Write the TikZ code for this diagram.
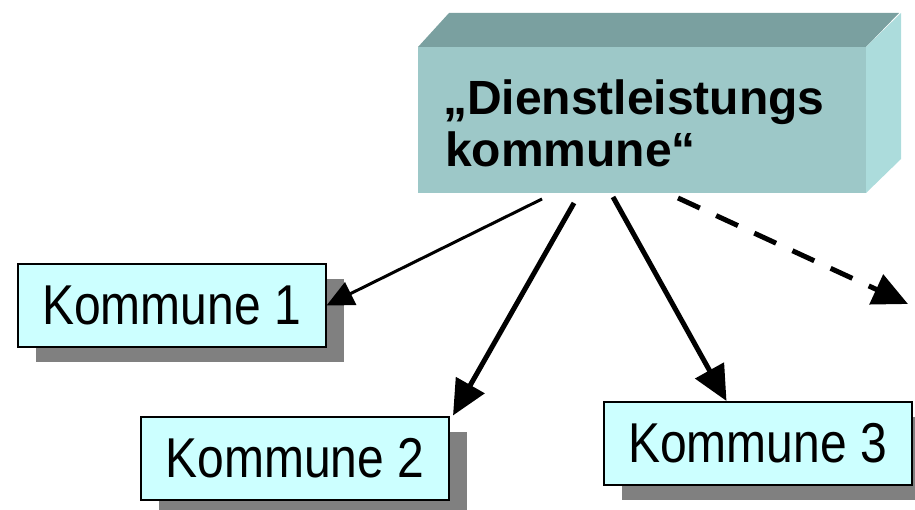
\documentclass[tikz,border=0pt]{standalone}
\usepackage{fontspec}
\setmainfont{Liberation Sans}
\usetikzlibrary{arrows.meta,calc,shadows}
\definecolor{frontc}{RGB}{157,200,200}
\definecolor{topc}{RGB}{122,160,160}
\definecolor{sidec}{RGB}{172,220,220}
\definecolor{kfill}{RGB}{204,255,255}
\definecolor{shadowc}{RGB}{128,128,128}
\tikzset{
  kbox/.style={draw=black, line width=2pt, fill=kfill, minimum width=308pt,
    minimum height=83pt, inner sep=0pt,
    drop shadow={shadow xshift=18pt, shadow yshift=-15pt, fill=shadowc, opacity=1}},
  bigtext/.style={inner sep=0pt, anchor=base west, font=\fontsize{48}{52}\selectfont\bfseries},
  thinarrow/.style={line width=3pt, -{Triangle[length=27pt,width=25pt]}},
  thickarrow/.style={line width=5pt, -{Triangle[length=35pt,width=32pt]}},
  dasharrow/.style={line width=5pt, dash pattern=on 24pt off 18pt, -{Triangle[length=35pt,width=32pt]}},
}
\begin{document}
\begin{tikzpicture}[x=1pt,y=-1pt]
\useasboundingbox (0,0) rectangle (915,510);
\clip (0,0) rectangle (915,510);
% 3D box
\node[fill=frontc, minimum width=448pt, minimum height=146pt, inner sep=0pt, outer sep=0pt] (big) at (642,120) {};
\fill[topc] (big.north west) -- ++(31,-34) -- ++(450,0) -- (big.north east) -- cycle;
\fill[sidec] (big.north east) -- ++(35,-34) -- ++(0,146) -- (big.south east) -- cycle;
\node[bigtext] (t1) at (443,115) {„Dienstleistungs};
\node[bigtext] (t2) at (445,167) {kommune“};
% small boxes
\node[kbox] (k1) at (171.5,305.5) {\scalebox{1}[1.17]{\fontsize{48}{52}\selectfont Kommune 1}};
\node[kbox] (k2) at (295,458) {\scalebox{1}[1.17]{\fontsize{48}{52}\selectfont Kommune 2}};
\node[kbox] (k3) at (757.5,443.5) {\scalebox{1}[1.17]{\fontsize{48}{52}\selectfont Kommune 3}};
% arrow endpoints
\coordinate (s1) at (542,199);
\coordinate (s2) at (574,203);
\coordinate (s3) at (613,197);
\coordinate (s4) at (678,198);
\coordinate (e4) at (908,304);
\draw[thinarrow] (s1) -- (k1.east);
\draw[thickarrow] (s2) -- ($(k2.north east)+(3,0)$);
\draw[thickarrow] (s3) -- ($(k3.north west)+(124,0)$);
\draw[dasharrow] (s4) -- (e4);
\end{tikzpicture}
\end{document}
